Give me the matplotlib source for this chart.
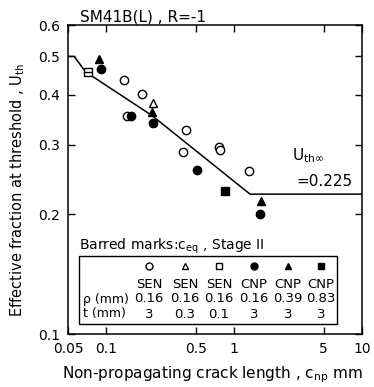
import matplotlib
matplotlib.use("Agg")
import matplotlib.pyplot as plt
from matplotlib.patches import Rectangle

# ---- data ----
curve_x = [0.05, 0.056, 0.060, 0.066, 0.078, 0.227, 1.33, 10.0]
curve_y = [0.50, 0.50, 0.485, 0.465, 0.445, 0.355, 0.225, 0.225]

sen016_x = [0.137, 0.19, 0.145, 0.42, 0.40, 0.76, 0.78, 1.30]
sen016_y = [0.436, 0.401, 0.355, 0.327, 0.288, 0.296, 0.290, 0.258]
sen03_x = [0.233]
sen03_y = [0.381]
sen01_x = [0.0716]
sen01_y = [0.458]
cnp016_x = [0.090, 0.157, 0.23, 0.51, 1.59]
cnp016_y = [0.466, 0.355, 0.340, 0.259, 0.200]
cnp039_x = [0.088, 0.227, 1.63]
cnp039_y = [0.492, 0.363, 0.216]
cnp083_x = [0.85]
cnp083_y = [0.229]

xticks = [0.05, 0.1, 0.5, 1, 5, 10]
xticklabels = ["0.05", "0.1", "0.5", "1", "5", "10"]
yticks = [0.1, 0.2, 0.3, 0.4, 0.5, 0.6]
yticklabels = ["0.1", "0.2", "0.3", "0.4", "0.5", "0.6"]

table_types = ["SEN", "SEN", "SEN", "CNP", "CNP", "CNP"]
table_rho = ["0.16", "0.16", "0.16", "0.16", "0.39", "0.83"]
table_t = ["3", "0.3", "0.1", "3", "3", "3"]
table_markers = ["o", "^", "s", "o", "^", "s"]
table_filled = [False, False, False, True, True, True]

# ---- figure ----
def fx(px):
    return px/374
def fy(py):
    return 1-py/387

fig = plt.figure(figsize=(3.74, 3.87), dpi=100)
ax = fig.add_axes([fx(68), fy(334), (362-68)/374, (334-25)/387])
ax.set_xscale("log")
ax.set_yscale("log")
ax.set_xlim(0.05, 10)
ax.set_ylim(0.1, 0.6)

ax.plot(curve_x, curve_y, color="black", lw=1.1)

ms = 6
open_kw = dict(ls="none", mfc="white", mec="black", mew=1.0, ms=ms)
fill_kw = dict(ls="none", mfc="black", mec="black", mew=1.0, ms=ms)
ax.plot(sen016_x, sen016_y, marker="o", **open_kw)
ax.plot(sen03_x, sen03_y, marker="^", **open_kw)
ax.plot(sen01_x, sen01_y, marker="s", **open_kw)
ax.plot(sen01_x, sen01_y, marker="_", ls="none", color="black", ms=ms, mew=1.0)
ax.plot(cnp016_x, cnp016_y, marker="o", **fill_kw)
ax.plot(cnp039_x, cnp039_y, marker="^", **fill_kw)
ax.plot(cnp083_x, cnp083_y, marker="s", **fill_kw)

ax.set_xticks(xticks)
ax.set_xticklabels(xticklabels)
ax.set_yticks(yticks)
ax.set_yticklabels(yticklabels)
ax.minorticks_off()
ax.tick_params(which="both", direction="in", top=True, right=True, length=5,
               width=1.0, labelsize=10, pad=6)
for s in ax.spines.values():
    s.set_linewidth(1.1)

fig.text(fx(212), fy(375), "Non-propagating crack length , c$_{\\mathrm{np}}$ mm",
         fontsize=11, ha="center", va="center")
fig.text(fx(18), fy(190), "Effective fraction at threshold , U$_{\\mathrm{th}}$",
         fontsize=10.5, ha="center", va="center", rotation=90)
fig.text(fx(80), fy(17), "SM41B(L) , R=-1", fontsize=11, va="center", ha="left")

# annotation
fig.text(fx(292), fy(156), "U$_{\\mathrm{th}\\infty}$", fontsize=11, ha="left", va="center")
fig.text(fx(296), fy(181), "=0.225", fontsize=11, ha="left", va="center")

# legend table
fig.text(fx(79), fy(246), "Barred marks:c$_{\\mathrm{eq}}$ , Stage II", fontsize=10, ha="left", va="center")
fig.add_artist(Rectangle((fx(79), fy(324)), fx(337)-fx(79), fy(256)-fy(324),
                         transform=fig.transFigure, fill=False, lw=1.0, ec="black"))
cols = [149, 185, 219, 254, 288, 321]
for i, cx in enumerate(cols):
    fig.lines.append(plt.Line2D([fx(cx)], [fy(266)], transform=fig.transFigure,
                                marker=table_markers[i], ms=5, ls="none",
                                mfc="black" if table_filled[i] else "white",
                                mec="black", mew=1.0))
    fig.text(fx(cx), fy(284), table_types[i], fontsize=9.5, ha="center", va="center")
    fig.text(fx(cx), fy(299), table_rho[i], fontsize=9.5, ha="center", va="center")
    fig.text(fx(cx), fy(314), table_t[i], fontsize=9.5, ha="center", va="center")
fig.text(fx(83), fy(299), "\u03c1 (mm)", fontsize=9, ha="left", va="center")
fig.text(fx(83), fy(314), "t (mm)", fontsize=9, ha="left", va="center")

fig.savefig("out.png", dpi=100)
